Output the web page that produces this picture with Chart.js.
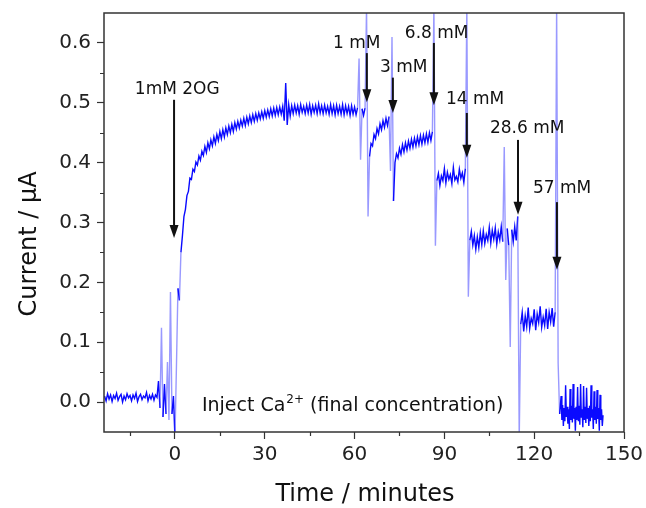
<!DOCTYPE html>
<html>
<head>
<meta charset="utf-8">
<script src="https://cdn.jsdelivr.net/npm/chart.js@4.4.0/dist/chart.umd.min.js"></script>
<style>
  html, body { margin: 0; padding: 0; background: #fff; }
  .chart-container { position: relative; width: 646px; height: 508px; }
</style>
</head>
<body>
<div class="chart-container"><canvas id="chart"></canvas></div>
<script>
// current (µA) per segment; each segment has its start time and sampling step (minutes)
const baselineStart = -23.5;
const baselineCurrent = [
  0.010, 0.002, 0.014, 0.005, 0.012, 0.001, 0.011, 0.006, 0.015, 0.003, 0.009,
  0.013, 0.000, 0.010, 0.004, 0.014, 0.007, 0.011, 0.002, 0.012, 0.006,
  0.015, 0.001, 0.009, 0.013, 0.004, 0.010, 0.007, 0.016, 0.002, 0.011,
  0.005, 0.013, 0.003, 0.012, 0.008,
  0.035, -0.010, 0.124, -0.025, 0.030, -0.020, 0.067, -0.030, 0.184, -0.020, 0.010
];

const growthStart = 0;
const growthCurrent = [
  -0.060, 0.060, 0.190, 0.170, 0.250, 0.278, 0.310, 0.322, 0.345, 0.352,
  0.374, 0.372, 0.389, 0.385, 0.401, 0.396, 0.411, 0.404, 0.419, 0.412,
  0.427, 0.417, 0.433, 0.423, 0.438, 0.428, 0.443, 0.432, 0.447, 0.437,
  0.452, 0.440, 0.455, 0.443, 0.458, 0.447, 0.461, 0.450, 0.464, 0.452,
  0.467, 0.456, 0.469, 0.458, 0.471, 0.461, 0.474, 0.462, 0.476, 0.465,
  0.478, 0.467, 0.480, 0.469, 0.482, 0.471, 0.483, 0.473, 0.485, 0.474,
  0.487, 0.476, 0.488, 0.477, 0.490, 0.478, 0.491, 0.479, 0.492, 0.480,
  0.493, 0.481, 0.494, 0.470, 0.533, 0.463, 0.497, 0.478, 0.495, 0.482,
  0.496, 0.483, 0.495, 0.481, 0.497, 0.484, 0.494, 0.482, 0.496, 0.483,
  0.497, 0.481, 0.495, 0.484, 0.496, 0.482, 0.498, 0.483, 0.495, 0.482,
  0.496, 0.483, 0.494, 0.481, 0.497, 0.482, 0.495, 0.480, 0.496, 0.482,
  0.494, 0.481, 0.497, 0.480, 0.495, 0.482, 0.494, 0.479, 0.495, 0.481,
  0.493, 0.480, 0.492, 0.574, 0.405, 0.490, 0.479, 0.491
];

const step1Start = 64;
const step1Current = [
  0.660, 0.310, 0.410, 0.432, 0.428, 0.447, 0.440, 0.457, 0.448, 0.465,
  0.455, 0.470, 0.459, 0.474, 0.462, 0.477, 0.386, 0.610, 0.336, 0.400
];

const step3Start = 74;
const step3Current = [
  0.415, 0.408, 0.424, 0.414, 0.430, 0.418, 0.433, 0.421, 0.436, 0.424,
  0.439, 0.426, 0.441, 0.428, 0.443, 0.430, 0.445, 0.431, 0.446, 0.433,
  0.448, 0.434, 0.450, 0.437, 0.452, 0.660, 0.261, 0.370
];

const step68Start = 88;
const step68Current = [
  0.382, 0.362, 0.378, 0.370, 0.390, 0.366, 0.384, 0.372, 0.380, 0.365,
  0.392, 0.371, 0.377, 0.368, 0.389, 0.374, 0.383, 0.367, 0.390, 0.660,
  0.176, 0.270
];

const step14Start = 99;
const step14Current = [
  0.285, 0.262, 0.278, 0.255, 0.276, 0.258, 0.283, 0.263, 0.286, 0.265,
  0.280, 0.270, 0.292, 0.266, 0.287, 0.272, 0.291, 0.264, 0.284, 0.271,
  0.293, 0.268, 0.426, 0.204, 0.290, 0.262, 0.092, 0.288, 0.268, 0.293,
  0.270, 0.310, -0.060, 0.130
];

const step286Start = 116;
const step286Current = [
  0.150, 0.118, 0.144, 0.126, 0.158, 0.123, 0.140, 0.131, 0.155, 0.120,
  0.147, 0.133, 0.160, 0.125, 0.142, 0.128, 0.156, 0.122, 0.150, 0.134,
  0.157, 0.126, 0.150, 0.660, 0.065, -0.020
];

const step57Start = 129;
const step57Current = [
  0.010, -0.030, -0.005, -0.040, -0.010, -0.032, 0.028, -0.025,
  -0.008, -0.036, -0.012, -0.045, 0.022, -0.030, -0.006, -0.034,
  0.030, -0.028, -0.010, -0.048, -0.008, -0.030, 0.025, -0.032,
  -0.006, -0.038, 0.030, -0.026, -0.012, -0.042, 0.027, -0.030,
  -0.008, -0.035, 0.024, -0.028, -0.010, -0.040, -0.006, -0.032,
  0.028, -0.026, -0.012, -0.045, 0.018, -0.030, -0.008, -0.036,
  0.020, -0.028, -0.010, -0.048, 0.012, -0.030, -0.012, -0.040,
  -0.022
];

const xTicks = [0, 30, 60, 90, 120, 150];
const xMinorTicks = [-15, 15, 45, 75, 105, 135];
const yTicks = [0.0, 0.1, 0.2, 0.3, 0.4, 0.5, 0.6];
const yMinorTicks = [0.05, 0.15, 0.25, 0.35, 0.45, 0.55];

// injections marked with arrows
const injectionLabels = ['1mM 2OG', '1 mM', '3 mM', '6.8 mM', '14 mM', '28.6 mM', '57 mM'];
const injectionTimes = [-0.3, 64.1, 72.8, 86.5, 97.5, 114.6, 127.6];

const segments = [
  [baselineStart, 0.5, baselineCurrent],
  [growthStart, 0.5, growthCurrent],
  [step1Start, 0.5, step1Current],
  [step3Start, 0.5, step3Current],
  [step68Start, 0.5, step68Current],
  [step14Start, 0.5, step14Current],
  [step286Start, 0.5, step286Current],
  [step57Start, 0.25, step57Current]
];

const tracePoints = [];
segments.forEach(([t0, dt, values]) => {
  values.forEach((v, i) => tracePoints.push({ x: t0 + i * dt, y: v }));
});

const FONT = "'DejaVu Sans', sans-serif";

// arrow extents and label anchors, in axis units
const arrowLayout = [
  { from: 0.505, to: 0.274, labelT: -13.4, labelY: 0.525 },
  { from: 0.583, to: 0.501, labelT: 52.8, labelY: 0.602 },
  { from: 0.542, to: 0.483, labelT: 68.5, labelY: 0.562 },
  { from: 0.600, to: 0.496, labelT: 76.8, labelY: 0.618 },
  { from: 0.483, to: 0.408, labelT: 90.5, labelY: 0.508 },
  { from: 0.438, to: 0.313, labelT: 105.2, labelY: 0.460 },
  { from: 0.334, to: 0.221, labelT: 119.6, labelY: 0.359 }
];

const overlay = {
  id: 'overlay',
  afterDraw(chart) {
    const { ctx, chartArea: a, scales: { x, y } } = chart;
    ctx.save();

    // frame on all four sides
    ctx.strokeStyle = '#333';
    ctx.lineWidth = 1.5;
    ctx.strokeRect(a.left, a.top, a.right - a.left, a.bottom - a.top);

    // minor ticks
    ctx.lineWidth = 1.2;
    ctx.beginPath();
    xMinorTicks.forEach(v => {
      const px = Math.round(x.getPixelForValue(v)) + 0.5;
      ctx.moveTo(px, a.bottom);
      ctx.lineTo(px, a.bottom + 4);
    });
    yMinorTicks.forEach(v => {
      const py = Math.round(y.getPixelForValue(v)) + 0.5;
      ctx.moveTo(a.left, py);
      ctx.lineTo(a.left - 4, py);
    });
    ctx.stroke();

    // arrows and labels
    ctx.fillStyle = '#111';
    ctx.strokeStyle = '#111';
    ctx.font = '17px ' + FONT;
    ctx.textAlign = 'left';
    ctx.textBaseline = 'alphabetic';
    arrowLayout.forEach((arr, i) => {
      const px = x.getPixelForValue(injectionTimes[i]);
      const y1 = y.getPixelForValue(arr.from);
      const y2 = y.getPixelForValue(arr.to);
      ctx.lineWidth = 2;
      ctx.beginPath();
      ctx.moveTo(px, y1);
      ctx.lineTo(px, y2 - 10);
      ctx.stroke();
      ctx.beginPath();
      ctx.moveTo(px - 4.5, y2 - 13);
      ctx.lineTo(px + 4.5, y2 - 13);
      ctx.lineTo(px, y2);
      ctx.closePath();
      ctx.fill();
      ctx.fillText(injectionLabels[i], x.getPixelForValue(arr.labelT), y.getPixelForValue(arr.labelY) + 6);
    });

    // injection note
    const nx = x.getPixelForValue(9.0);
    const ny = y.getPixelForValue(-0.003) + 7;
    ctx.font = '19px ' + FONT;
    const part1 = 'Inject Ca';
    ctx.fillText(part1, nx, ny);
    let w = ctx.measureText(part1).width;
    ctx.font = '12px ' + FONT;
    ctx.fillText('2+', nx + w + 1, ny - 8);
    w += ctx.measureText('2+').width + 1;
    ctx.font = '19px ' + FONT;
    ctx.fillText(' (final concentration)', nx + w, ny);

    // axis titles
    ctx.font = '24px ' + FONT;
    ctx.textAlign = 'center';
    ctx.fillText('Time / minutes', 365, 501);
    ctx.translate(36, 244);
    ctx.rotate(-Math.PI / 2);
    ctx.fillText('Current / µA', 0, 0);

    ctx.restore();
  }
};

new Chart(document.getElementById('chart').getContext('2d'), {
  type: 'line',
  data: {
    datasets: [{
      data: tracePoints,
      borderColor: 'rgb(10, 10, 255)',
      borderWidth: 1.4,
      pointRadius: 0,
      tension: 0,
      // fast jumps (injection spikes) show as faint lines
      segment: {
        borderColor: c => Math.abs(c.p1.parsed.y - c.p0.parsed.y) > 0.07 ? 'rgba(70, 70, 255, 0.55)' : undefined
      }
    }]
  },
  options: {
    responsive: true,
    maintainAspectRatio: false,
    animation: false,
    layout: { padding: { top: 13, right: 22, left: 0, bottom: 0 } },
    plugins: { legend: { display: false }, tooltip: { enabled: false } },
    scales: {
      x: {
        type: 'linear',
        min: -23.7,
        max: 150,
        afterBuildTicks: scale => { scale.ticks = xTicks.map(v => ({ value: v })); },
        afterFit: scale => { scale.height = 76; scale.paddingLeft = 0; scale.paddingRight = 0; },
        grid: { drawOnChartArea: false, drawTicks: true, tickLength: 7, tickColor: '#333', tickWidth: 1.2 },
        border: { display: false },
        ticks: { color: '#222', font: { family: FONT, size: 20 }, padding: 4, maxRotation: 0 }
      },
      y: {
        min: -0.05,
        max: 0.65,
        afterBuildTicks: scale => { scale.ticks = yTicks.map(v => ({ value: v })); },
        afterFit: scale => { scale.width = 104; scale.paddingTop = 0; scale.paddingBottom = 0; },
        grid: { drawOnChartArea: false, drawTicks: true, tickLength: 7, tickColor: '#333', tickWidth: 1.2 },
        border: { display: false },
        ticks: { color: '#222', font: { family: FONT, size: 20 }, padding: 6, callback: v => v.toFixed(1) }
      }
    }
  },
  plugins: [overlay]
});
</script>
</body>
</html>
